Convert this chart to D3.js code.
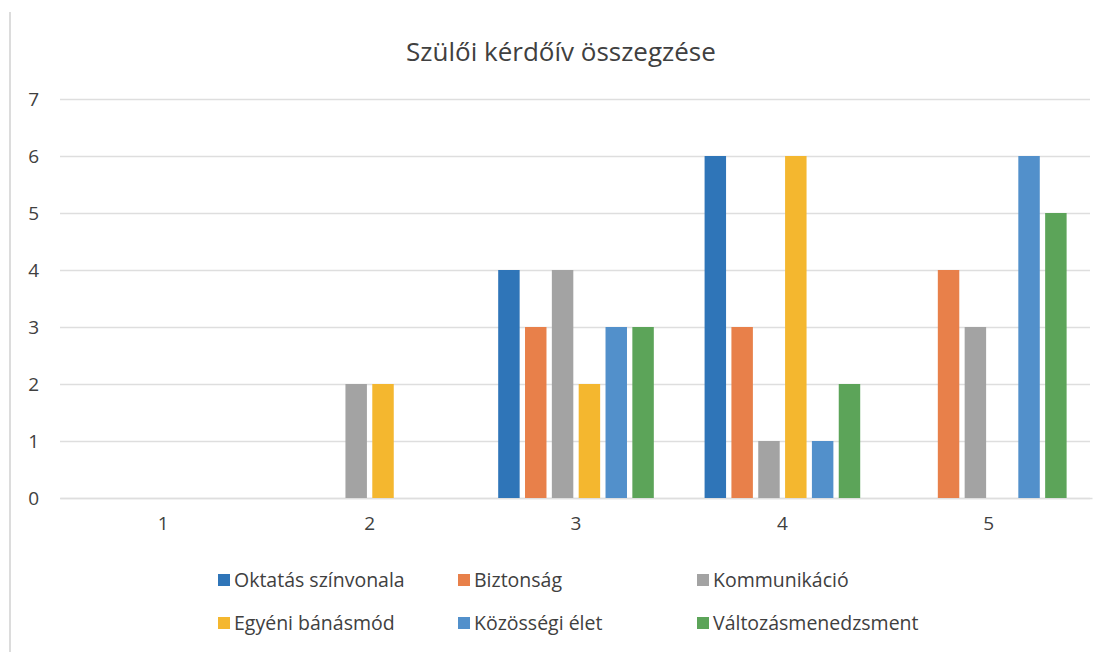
<!DOCTYPE html>
<html><head><meta charset="utf-8">
<script src="https://cdn.jsdelivr.net/npm/d3@7"></script>
<style>body{margin:0;background:#fff}svg{display:block}</style>
</head><body>
<script>
const categories = ["1","2","3","4","5"];
const seriesNames = ["Oktatás színvonala","Biztonság","Kommunikáció","Egyéni bánásmód","Közösségi élet","Változásmenedzsment"];
const oktatas = [0,0,4,6,0];
const biztonsag = [0,0,3,3,4];
const kommunikacio = [0,2,4,1,3];
const egyeni = [0,2,2,6,0];
const kozossegi = [0,0,3,1,6];
const valtozas = [0,0,3,2,5];
const yTicks = [0,1,2,3,4,5,6,7];
const colors = ["#2F75B8","#E8804A","#A3A3A3","#F4B72F","#5290CB","#5CA459"];
const title = "Szülői kérdőív összegzése";

const values = [oktatas,biztonsag,kommunikacio,egyeni,kozossegi,valtozas];
const W = 1108, H = 652;
const font = "'Open Sans', 'Noto Sans', sans-serif";
const svg = d3.select("body").append("svg").attr("width",W).attr("height",H);

// frame line
svg.append("line").attr("x1",10).attr("x2",10).attr("y1",12).attr("y2",H)
  .attr("stroke","#dcdcdc").attr("stroke-width",2);

const x0 = d3.scaleBand().domain(categories).range([60,1092]).paddingInner(0.22).paddingOuter(0.11);
const x1 = d3.scaleBand().domain(seriesNames).range([0,x0.bandwidth()]).paddingInner(0.2).paddingOuter(0.1);
const y = d3.scaleLinear().domain([0,7]).range([498,99]);

// gridlines
const yAxis = d3.axisLeft(y).tickValues(yTicks).tickSize(-(1090-60)).tickPadding(21).tickFormat(d3.format("d"));
const gy = svg.append("g").attr("transform","translate(60,0)").call(yAxis);
gy.select(".domain").remove();
gy.selectAll(".tick line").attr("stroke","#dedede").attr("stroke-width",1.3);
gy.selectAll(".tick text").attr("fill","#404040").style("font-family",font).style("font-size","19px");

// x axis labels
const xAxis = d3.axisBottom(x0).tickSize(0).tickPadding(19);
const gx = svg.append("g").attr("transform","translate(0,498)").call(xAxis);
gx.select(".domain").attr("stroke","#dedede").attr("stroke-width",1.3);
gx.selectAll(".tick text").attr("fill","#404040").style("font-family",font).style("font-size","19px");

// bars
const groups = svg.append("g").selectAll("g").data(categories).join("g")
  .attr("transform",d=>`translate(${x0(d)},0)`);
groups.selectAll("rect").data((c,ci)=>seriesNames.map((s,si)=>({s,si,v:values[si][ci]}))).join("rect")
  .attr("x",d=>x1(d.s)).attr("width",x1.bandwidth())
  .attr("y",d=>y(d.v)).attr("height",d=>y(0)-y(d.v))
  .attr("fill",d=>colors[d.si]);

// title
svg.append("text").attr("x",561).attr("y",61).attr("text-anchor","middle")
  .attr("fill","#404040").style("font-family",font).style("font-size","26px").text(title);

// legend
const legX = [218,458,697], legY = [580,623];
const leg = svg.append("g").selectAll("g").data(seriesNames).join("g")
  .attr("transform",(d,i)=>`translate(${legX[i%3]},${legY[Math.floor(i/3)]})`);
leg.append("rect").attr("x",0).attr("y",-6).attr("width",12).attr("height",12).attr("fill",(d,i)=>colors[i]);
leg.append("text").attr("x",16).attr("y",7).attr("fill","#404040")
  .style("font-family",font).style("font-size","19.5px").text(d=>d);
</script>
</body></html>
